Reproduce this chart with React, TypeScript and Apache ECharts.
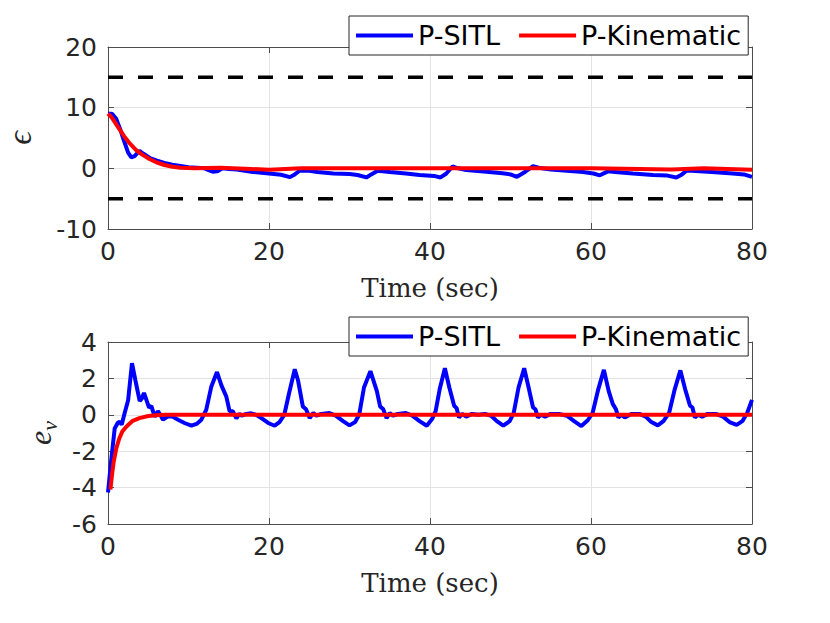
import React, { useEffect, useRef } from "react";
import * as echarts from "echarts";

const xTicks = [0, 20, 40, 60, 80];
const epsTicks = [-10, 0, 10, 20];
const evTicks = [-6, -4, -2, 0, 2, 4];
const seriesNames = ["P-SITL", "P-Kinematic"];
const epsBounds = [15, -5];

const epsSitl: [number, number][] = [
  [0, 9.0], [0.5, 9.0], [1.0, 8.2], [1.5, 6.5], [2.0, 4.5], [2.5, 2.6], [2.9, 1.8], [3.3, 2.0],
  [3.9, 2.9], [4.4, 2.4], [5.2, 1.7], [6.0, 1.3], [7.0, 0.9], [8.0, 0.6], [10.0, 0.2], [12.0, 0.0],
  [12.5, -0.3], [13.0, -0.55], [13.6, -0.5], [14.2, 0.0], [15.0, -0.1], [16.0, -0.2], [18.0, -0.6],
  [20.0, -0.85], [21.5, -1.05], [22.6, -1.45], [23.2, -1.0], [23.8, -0.4], [25.0, -0.4], [26.0, -0.6],
  [28.0, -0.85], [30.0, -0.95], [31.0, -1.1], [32.1, -1.5], [32.7, -1.0], [33.5, -0.4], [35.0, -0.6],
  [37.0, -0.85], [38.7, -1.1], [40.5, -1.25], [41.3, -1.5], [42.0, -0.9], [42.8, 0.3], [43.5, 0.0],
  [44.5, -0.27], [47.0, -0.55], [49.0, -0.8], [50.0, -1.0], [50.8, -1.4], [51.8, -0.6], [52.8, 0.35],
  [53.5, 0.1], [55.0, -0.2], [57.0, -0.4], [59.0, -0.6], [60.3, -0.85], [61.1, -1.15], [62.1, -0.5],
  [63.0, -0.6], [65.2, -0.85], [67.7, -1.1], [69.5, -1.2], [70.6, -1.5], [71.3, -1.0], [71.9, -0.35],
  [72.5, -0.4], [75.0, -0.6], [77.6, -0.85], [79.0, -1.0], [80.0, -1.4],
];

const epsKin: [number, number][] = [
  [0, 9.0], [0.5, 8.3], [1.0, 7.3], [1.5, 6.3], [2.0, 5.3], [2.7, 4.1], [3.5, 3.0], [4.2, 2.3],
  [5.2, 1.5], [6.0, 1.0], [7.0, 0.55], [8.0, 0.26], [9.0, 0.1], [10.8, 0.0], [14.0, 0.1], [17.0, -0.05],
  [20.0, -0.25], [24.0, 0.0], [30.0, 0.0], [40.0, 0.0], [50.0, 0.0], [60.0, 0.0], [66.0, -0.1],
  [70.0, -0.2], [74.0, 0.0], [80.0, -0.25],
];

const evSitl: [number, number][] = [
  [0, -4.27], [0.4, -2.5], [0.83, -0.75], [1.2, -0.45], [1.45, -0.37], [1.7, -0.55], [2.07, 0.1],
  [2.5, 0.8], [2.98, 2.84], [3.4, 1.9], [3.94, 0.75], [4.2, 0.9], [4.47, 1.2], [4.9, 0.65], [5.1, 0.4],
  [5.39, 0.48], [5.8, -0.1], [6.2, 0.2], [6.5, 0.0], [6.83, -0.27], [7.45, -0.08], [8.0, -0.1],
  [8.7, -0.27], [9.5, -0.45], [10.36, -0.6], [11.0, -0.5], [11.6, -0.27], [12.2, 0.27], [12.84, 1.56],
  [13.54, 2.35], [14.1, 1.6], [14.7, 1.0], [15.1, 0.2], [15.5, 0.2], [15.95, -0.2], [16.3, 0.05],
  [16.6, -0.05], [17.2, 0.05], [17.8, 0.08], [18.4, 0.0], [19.05, -0.18], [19.9, -0.45], [20.7, -0.6],
  [21.3, -0.4], [21.9, 0.0], [22.5, 1.2], [23.2, 2.5], [23.6, 1.9], [24.2, 0.46], [24.6, 0.3],
  [25.05, -0.18], [25.5, 0.1], [25.9, -0.05], [26.5, 0.05], [27.5, 0.1], [28.3, -0.05], [29.2, -0.35],
  [30.0, -0.58], [30.7, -0.4], [31.2, 0.0], [31.8, 1.5], [32.6, 2.4], [33.4, 1.3], [33.8, 0.46],
  [34.2, 0.3], [34.6, -0.18], [35.0, 0.1], [35.4, -0.05], [36.0, 0.05], [37.0, 0.1], [37.8, -0.05],
  [38.7, -0.35], [39.6, -0.6], [40.3, -0.2], [40.7, 0.2], [41.2, 1.4], [41.85, 2.56], [42.4, 1.5],
  [43.0, 0.5], [43.3, 0.37], [43.6, -0.15], [44.0, 0.05], [44.5, -0.1], [45.2, 0.05], [46.0, 0.0],
  [46.8, 0.05], [47.6, -0.05], [48.3, -0.35], [49.1, -0.6], [49.9, -0.35], [50.4, 0.1], [51.0, 1.5],
  [51.7, 2.56], [52.3, 1.4], [52.8, 0.4], [53.1, 0.3], [53.4, -0.15], [53.8, 0.0], [54.3, -0.1],
  [55.0, 0.05], [56.0, 0.05], [57.0, -0.05], [57.9, -0.35], [58.8, -0.62], [59.6, -0.3], [60.2, 0.1],
  [60.9, 1.4], [61.6, 2.47], [62.2, 1.3], [62.7, 0.6], [63.1, 0.3], [63.4, -0.15], [63.8, 0.0],
  [64.2, -0.15], [65.0, 0.05], [66.0, 0.05], [66.8, -0.1], [67.5, -0.4], [68.3, -0.58], [69.0, -0.35],
  [69.7, 0.1], [70.4, 1.4], [71.1, 2.44], [71.7, 1.4], [72.3, 0.5], [72.6, 0.4], [72.9, -0.15],
  [73.3, 0.0], [73.8, -0.1], [74.5, 0.05], [75.5, 0.05], [76.4, -0.1], [77.2, -0.4], [78.1, -0.55],
  [78.8, -0.35], [79.4, 0.1], [80.0, 0.82],
];

const evKin: [number, number][] = [
  [0.3, -4.1], [0.5, -3.3], [0.7, -2.6], [1.04, -1.83], [1.4, -1.3], [1.8, -0.9], [2.3, -0.64],
  [3.0, -0.35], [3.9, -0.18], [5.0, -0.07], [6.0, -0.02], [7.0, 0.0], [20.0, 0.0], [40.0, 0.0],
  [60.0, 0.0], [80.0, 0.0],
];

const TICK_FONT = "DejaVu Sans";
const SERIF = "'DejaVu Serif', 'Liberation Serif', serif";
const ITALIC_SERIF = "'Liberation Serif', 'DejaVu Serif', serif";
const AXIS_COLOR = "#4d4d4d";
const TEXT_COLOR = "#262626";
const GRID_COLOR = "#e3e3e3";
const LINE_W = 4;

function xAxisPair(gridIndex: number) {
  const min = xTicks[0];
  const max = xTicks[xTicks.length - 1];
  const interval = xTicks[1] - xTicks[0];
  return [
    {
      type: "value", gridIndex, min, max, interval, position: "bottom",
      axisLine: { show: true, onZero: false, lineStyle: { color: AXIS_COLOR, width: 1 } },
      axisTick: { show: true, inside: true, length: 6, lineStyle: { color: AXIS_COLOR } },
      axisLabel: { show: true, color: TEXT_COLOR, fontSize: 25, fontFamily: TICK_FONT, margin: 10 },
      splitLine: { show: true, lineStyle: { color: GRID_COLOR, width: 1 } },
      name: "Time (sec)", nameLocation: "middle", nameGap: 46,
      nameTextStyle: { color: TEXT_COLOR, fontSize: 26, fontFamily: SERIF },
    },
    {
      type: "value", gridIndex, min, max, interval, position: "top",
      axisLine: { show: true, onZero: false, lineStyle: { color: AXIS_COLOR, width: 1 } },
      axisTick: { show: true, inside: true, length: 6, lineStyle: { color: AXIS_COLOR } },
      axisLabel: { show: false }, splitLine: { show: false },
    },
  ];
}

function yAxisPair(gridIndex: number, ticks: number[], nameOpts: any) {
  const min = ticks[0];
  const max = ticks[ticks.length - 1];
  const interval = ticks[1] - ticks[0];
  return [
    {
      type: "value", gridIndex, min, max, interval, position: "left",
      axisLine: { show: true, onZero: false, lineStyle: { color: AXIS_COLOR, width: 1 } },
      axisTick: { show: true, inside: true, length: 6, lineStyle: { color: AXIS_COLOR } },
      axisLabel: { show: true, color: TEXT_COLOR, fontSize: 25, fontFamily: TICK_FONT, margin: 11 },
      splitLine: { show: true, lineStyle: { color: GRID_COLOR, width: 1 } },
      nameLocation: "middle", nameRotate: 90,
      ...nameOpts,
    },
    {
      type: "value", gridIndex, min, max, interval, position: "right",
      axisLine: { show: true, onZero: false, lineStyle: { color: AXIS_COLOR, width: 1 } },
      axisTick: { show: true, inside: true, length: 6, lineStyle: { color: AXIS_COLOR } },
      axisLabel: { show: false }, splitLine: { show: false },
    },
  ];
}

function legendAt(top: number) {
  return {
    data: seriesNames,
    left: 349, top,
    orient: "horizontal",
    icon: "rect",
    itemWidth: 57, itemHeight: 4, itemGap: 19,
    padding: [6, 7, 6, 7],
    backgroundColor: "#ffffff",
    borderColor: "#262626", borderWidth: 1, borderRadius: 0,
    selectedMode: false,
    textStyle: { color: "#000000", fontSize: 27, fontFamily: TICK_FONT },
    z: 10,
  };
}

function lineSeries(name: string, data: [number, number][], color: string, xi: number, yi: number) {
  return {
    type: "line", name, data, xAxisIndex: xi, yAxisIndex: yi,
    symbol: "none", showSymbol: false, smooth: false,
    lineStyle: { color, width: LINE_W }, itemStyle: { color },
    z: 3,
  };
}

function boundSeries(value: number) {
  return {
    type: "line", name: "bound" + value,
    data: [[xTicks[0], value], [xTicks[xTicks.length - 1], value]],
    xAxisIndex: 0, yAxisIndex: 0, symbol: "none",
    lineStyle: { color: "#000000", width: 3.5, type: [15, 15] },
    itemStyle: { color: "#000000" }, z: 2,
  };
}

export default function App() {
  const ref = useRef<HTMLDivElement>(null);
  useEffect(() => {
    document.body.style.margin = "0";
    if (!ref.current) return;
    const chart = echarts.init(ref.current, undefined, { renderer: "svg" });
    const xs = [...xAxisPair(0), ...xAxisPair(1)];
    const ys = [
      ...yAxisPair(0, epsTicks, {
        name: "\u03f5",
        nameGap: 72,
        nameTextStyle: { color: TEXT_COLOR, fontSize: 34, fontStyle: "italic", fontFamily: ITALIC_SERIF },
      }),
      ...yAxisPair(1, evTicks, {
        name: "{e|e}{v|v}",
        nameGap: 48,
        nameTextStyle: {
          color: TEXT_COLOR,
          rich: {
            e: { fontSize: 32, fontStyle: "italic", fontFamily: ITALIC_SERIF, color: TEXT_COLOR, lineHeight: 40, verticalAlign: "middle" },
            v: { fontSize: 22, fontStyle: "italic", fontFamily: ITALIC_SERIF, color: TEXT_COLOR, lineHeight: 22, verticalAlign: "bottom" },
          },
        },
      }),
    ];
    chart.setOption({
      animation: false,
      backgroundColor: "#ffffff",
      grid: [
        { left: 108, top: 47, width: 644, height: 182, containLabel: false, outerBoundsMode: "none" },
        { left: 108, top: 342, width: 644, height: 182, containLabel: false, outerBoundsMode: "none" },
      ],
      xAxis: xs,
      yAxis: ys,
      legend: [legendAt(16), legendAt(317)],
      series: [
        boundSeries(epsBounds[0]),
        boundSeries(epsBounds[1]),
        lineSeries(seriesNames[0], epsSitl, "#0000ff", 0, 0),
        lineSeries(seriesNames[1], epsKin, "#ff0000", 0, 0),
        lineSeries(seriesNames[0], evSitl, "#0000ff", 2, 2),
        lineSeries(seriesNames[1], evKin, "#ff0000", 2, 2),
      ],
    });
    return () => chart.dispose();
  }, []);
  return <div ref={ref} style={{ width: 830, height: 623 }} />;
}
